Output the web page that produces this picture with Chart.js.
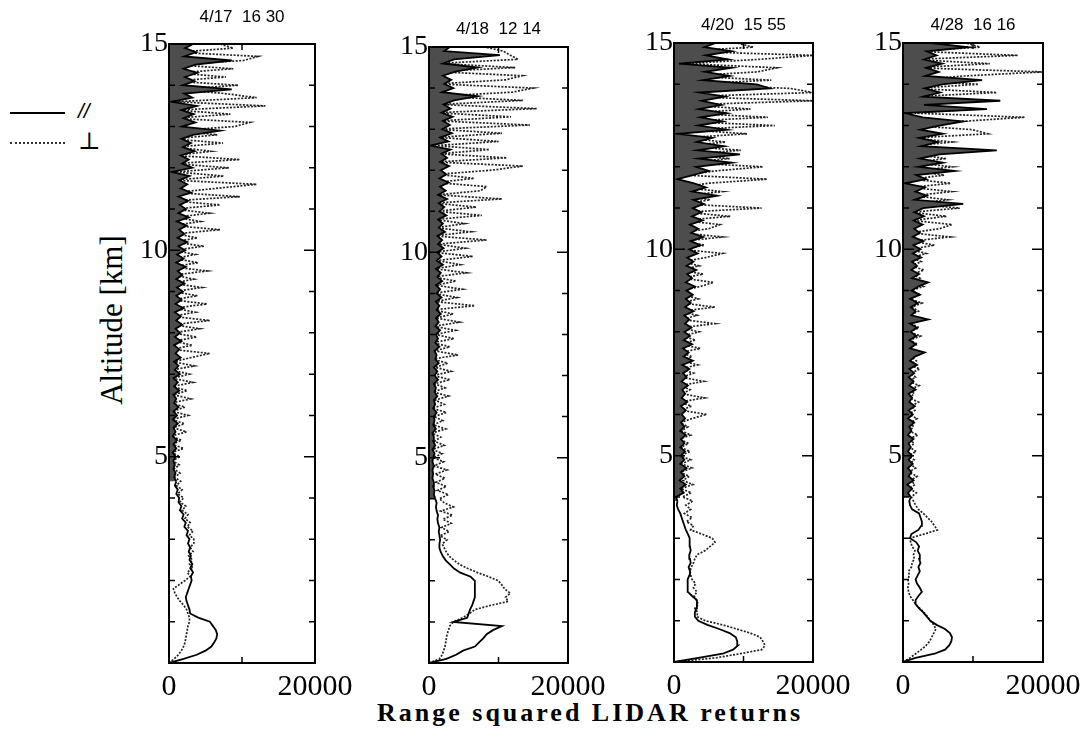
<!DOCTYPE html>
<html lang="en">
  <head>
    <meta charset="UTF-8" />
    <title>LIDAR profiles</title>
    <style>
      * {
        margin: 0;
        padding: 0;
        box-sizing: border-box;
      }
      body {
        width: 1085px;
        height: 750px;
        background: #fff;
        position: relative;
        overflow: hidden;
        font-family: "Liberation Serif", serif;
        color: #000;
      }
      canvas {
        position: absolute;
      }
      .titulo {
        position: absolute;
        font: 17px "Liberation Sans", sans-serif;
        white-space: pre;
        transform: translate(-50%, -50%);
      }
      #eixoY {
        position: absolute;
        left: 112px;
        top: 320px;
        font-size: 31px;
        white-space: nowrap;
        transform: translate(-50%, -50%) rotate(-90deg);
      }
      #eixoX {
        position: absolute;
        left: 590px;
        top: 713px;
        font-size: 26px;
        font-weight: bold;
        letter-spacing: 3px;
        white-space: nowrap;
        transform: translate(-50%, -50%);
      }
      .leg {
        position: absolute;
        left: 10px;
        width: 55px;
        height: 0;
      }
      .legTxt {
        position: absolute;
        left: 78px;
      }
    </style>
  </head>
  <body>
    <div class="leg" style="top:112px;border-top:2px solid #000"></div>
    <div class="legTxt" style="top:99px;font:italic 21px 'Liberation Sans',sans-serif">//</div>
    <div class="leg" style="top:142px;border-top:2px dotted #333"></div>
    <div class="legTxt" style="top:127px;font:24px 'DejaVu Serif',serif">⊥</div>

    <div id="eixoY">Altitude [km]</div>
    <div id="eixoX">Range squared LIDAR returns</div>

    <script src="https://cdn.jsdelivr.net/npm/chart.js"></script>
    <script>
      // altitude grid (km)
      const altitude = [
        0.0,0.1,0.2,0.3,0.4,0.5,0.6,0.7,0.8,0.9,
        1.0,1.1,1.2,1.3,1.4,1.5,1.6,1.7,1.8,1.9,
        2.0,2.1,2.2,2.3,2.4,2.5,2.6,2.7,2.8,2.9,
        3.0,3.1,3.2,3.3,3.4,3.5,3.6,3.7,3.8,3.9,
        4.0,4.1,4.2,4.3,4.4,4.5,4.6,4.7,4.8,4.9,
        5.0,5.1,5.2,5.3,5.4,5.5,5.6,5.7,5.8,5.9,
        6.0,6.1,6.2,6.3,6.4,6.5,6.6,6.7,6.8,6.9,
        7.0,7.1,7.2,7.3,7.4,7.5,7.6,7.7,7.8,7.9,
        8.0,8.1,8.2,8.3,8.4,8.5,8.6,8.7,8.8,8.9,
        9.0,9.1,9.2,9.3,9.4,9.5,9.6,9.7,9.8,9.9,
        10.0,10.1,10.2,10.3,10.4,10.5,10.6,10.7,10.8,10.9,
        11.0,11.1,11.2,11.3,11.4,11.5,11.6,11.7,11.8,11.9,
        12.0,12.1,12.2,12.3,12.4,12.5,12.6,12.7,12.8,12.9,
        13.0,13.1,13.2,13.3,13.4,13.5,13.6,13.7,13.8,13.9,
        14.0,14.1,14.2,14.3,14.4,14.5,14.6,14.7,14.8,14.9,
        15.0
      ];

      const titulos = ['4/17  16 30', '4/18  12 14', '4/20  15 55', '4/28  16 16'];

      // parallel (//) and perpendicular (⊥) returns per profile
      const par0417 = [
        0,2000,3800,5000,5800,6200,6500,6600,6400,6000,
        5600,4000,2900,2800,2600,2400,2300,2500,2700,2900,
        3100,3000,3300,2900,3200,2800,3000,2700,2900,2600,
        2800,2400,2600,2100,2300,1800,2000,1500,1700,1300,
        1400,1000,1200,800,1000,700,900,600,800,600,
        900,500,1000,600,1100,500,900,600,1200,500,
        1100,600,1300,700,1000,600,1400,700,1200,600,
        1500,800,1300,700,1600,900,1400,700,1700,800,
        1500,900,1800,1000,1600,800,2000,900,1700,1000,
        1900,1100,2100,1000,1800,1200,2300,1000,2000,1100,
        2200,1300,2500,1200,2100,1400,2400,1100,2700,1300,
        2300,1500,2600,1300,3000,1600,2500,1400,2800,300,
        3200,1800,2700,1600,3500,1900,3000,1700,3300,7000,
        1800,3600,2000,3400,1700,3800,300,3200,2100,8600,
        1900,3500,2200,3900,2000,3600,8600,2100,3700,2200,
        3300
      ];
      const per0417 = [
        0,700,1300,1700,2000,2200,2300,2400,2500,2600,
        2800,2800,2600,2400,2000,1500,1100,800,600,1400,
        2200,2900,2500,3300,2800,3200,2700,3300,2900,3400,
        3400,2800,3300,2500,2900,2200,2600,1800,2300,1500,
        2000,1200,1800,1000,1600,800,1500,700,1400,500,
        1500,400,2000,500,1700,300,2400,600,2100,400,
        2600,500,2200,300,3000,600,2500,400,3300,500,
        2800,400,3500,600,3000,5600,400,3200,700,3800,
        500,4200,600,5600,400,3600,700,5200,500,3900,
        600,4500,400,3400,700,5200,500,4000,800,3600,
        600,4800,500,3900,900,7000,600,4300,800,5500,
        700,7000,500,9700,800,6400,12000,600,7500,900,
        8200,600,9700,700,5800,900,7400,500,6600,800,
        9000,11100,700,8400,1000,13200,800,12000,7600,900,
        9500,600,7800,1100,8800,700,10200,12200,900,8800,
        7000
      ];
      const par0418 = [
        0,2500,3900,4900,6600,7200,7800,8300,9200,10500,
        3500,5500,5700,5900,6200,6400,6600,6600,6600,6600,
        6600,6000,4500,3600,3000,2400,2000,1700,1500,1500,
        1600,1500,1400,1500,1300,1200,1300,1100,1000,1100,
        900,700,800,600,700,500,600,500,700,500,
        600,800,500,900,600,700,500,1000,600,800,
        700,1100,600,900,700,1200,800,1000,700,1300,
        800,1200,700,1400,900,1100,800,1500,900,1300,
        1000,1600,900,1400,1000,1700,1100,1500,1000,1800,
        1100,1600,1000,1900,1200,1700,1000,2000,1100,1800,
        1200,2100,1300,1900,1200,2300,1400,2000,1300,2500,
        1500,2200,1400,2600,1300,2400,1600,2800,1500,2500,
        1700,2900,1600,2600,1800,3100,200,2800,1600,3300,
        1900,3000,2000,3400,1800,3100,2100,3600,7000,1900,
        3500,2200,3200,2000,3800,7000,2000,3600,10200,2200,
        3000
      ];
      const per0418 = [
        0,1500,1900,2100,2300,2400,2500,2600,2800,3000,
        3500,4800,5800,6600,8800,11400,11000,11700,10900,10500,
        10000,8600,7000,5600,4400,3600,2900,2500,2200,1900,
        2600,1600,2900,1800,3200,2000,3400,1700,3500,2200,
        1500,2800,1200,2500,1000,2300,900,2600,700,2100,
        600,1900,500,2200,800,1700,400,2400,600,2000,
        700,2500,500,2200,900,2800,600,2300,800,3000,
        600,3200,900,2700,500,4200,800,3000,600,3600,
        900,3800,700,4400,1000,3500,600,6600,900,4000,
        700,4800,1000,3900,600,5400,900,4500,1100,6300,
        800,5200,1200,8300,700,6000,1000,5100,900,7600,
        1100,6800,800,10500,1200,7400,8300,900,6500,1300,
        9000,13500,1000,11200,1400,8700,900,10000,1200,10500,
        1000,14500,1300,11800,900,15500,1400,13500,1100,12000,
        15000,1200,11000,13400,900,12400,1300,12800,11700,10700,
        8000
      ];
      const par0420 = [
        0,3500,7000,8500,9200,9100,8900,8000,6500,4800,
        3500,3000,3000,3200,3300,3300,2600,2000,1900,2000,
        2000,2200,2300,2100,2400,2300,2200,2400,2300,2300,
        2200,2000,1700,1500,1300,1100,900,600,400,500,
        300,1400,900,1700,800,1500,1000,1800,900,1500,
        1000,1600,900,1500,1000,1700,900,1500,1000,1600,
        1100,1700,1000,1900,1100,1600,1200,2000,1100,1800,
        1300,2200,1200,2700,1400,2100,1300,2600,1400,2300,
        1500,2500,1600,2200,1500,2800,1600,2400,1700,2700,
        1800,3000,1700,2600,1900,3200,1800,2800,1900,3400,
        2200,3800,2400,4200,2500,3500,2300,4100,2600,3900,
        2700,4300,2800,6200,2600,4600,2900,500,2700,5000,
        3200,8300,3600,9500,3400,7200,3300,5500,600,7600,
        3500,7000,3800,7600,3600,6800,4000,7300,3700,13800,
        11900,4200,8000,4500,8300,700,7800,4600,8300,4400,
        6000
      ];
      const per0420 = [
        0,6000,9500,12600,13100,12800,12400,11000,9000,7000,
        4500,3300,3400,3000,3500,3200,2900,3300,2800,3100,
        2600,2400,2300,2500,2800,3000,3300,4500,5200,5900,
        5500,4000,2400,2800,1800,2600,1500,2400,1700,2700,
        1200,2500,1000,2700,1300,2200,900,2600,1100,2400,
        800,2300,1000,2100,700,2400,1100,2000,900,2600,
        4700,1000,2500,800,4400,1200,2300,900,4300,1100,
        2800,900,3400,1200,2600,1000,3800,800,3100,1300,
        3600,1000,5900,1200,3300,900,5900,1100,3500,1400,
        1000,3800,5700,1200,4200,900,3600,1300,4500,7000,
        1100,4400,1400,7000,1000,5000,6600,1200,8100,1500,
        12600,1200,5200,1500,7000,1100,4800,13400,1300,6000,
        12800,1400,8000,1100,9600,1600,7400,1200,10500,1500,
        14500,1200,13500,1700,11000,1300,20000,1500,20000,16700,
        1400,14000,1800,12000,14800,1500,11900,20000,1300,11400,
        9000
      ];
      const par0428 = [
        0,1800,4500,6000,6600,6900,7000,6700,6000,4800,
        3900,3400,2900,2300,1800,1800,2200,2700,2400,2000,
        1800,2100,2400,2200,2500,2300,2400,2100,2300,1900,
        1000,1200,2200,2600,2700,2500,2300,1300,1000,900,
        1100,700,1300,600,1500,800,1200,700,1400,800,
        1300,700,1100,800,1500,700,1200,900,1600,700,
        1400,800,1700,900,1300,800,1800,900,1500,800,
        1600,900,2000,1000,1700,3100,1000,1800,900,1900,
        1100,2000,1000,3600,1200,1800,1100,2100,1000,2400,
        1200,2200,3600,1300,2300,1200,2000,1300,2600,1400,
        2500,1500,2900,1400,2400,1600,2800,1500,3000,1600,
        2900,8600,1700,3400,1800,3100,300,3300,1900,7400,
        2200,5700,2400,5200,13400,2600,5000,2300,5700,2500,
        5200,8600,2800,300,12000,3000,13900,2900,5300,3100,
        5600,11300,3200,5100,3300,5600,3000,4800,3400,9300,
        4000
      ];
      const per0428 = [
        0,1000,1800,2600,3300,3800,4100,4400,4700,4400,
        3900,3500,3000,2400,1800,1400,1000,800,700,800,
        700,900,800,1200,1300,1600,1500,1700,1300,1100,
        1000,3000,4900,4500,4100,3500,2900,2200,1800,1500,
        1200,1900,900,1700,1100,2000,800,1800,1000,1600,
        700,1900,1000,1600,800,2100,900,1500,1100,2000,
        800,1700,1200,2200,900,1600,1000,2300,800,1800,
        1100,2400,900,1900,1200,2600,800,2100,1000,2500,
        900,2300,1200,2800,1000,2200,1300,2700,900,2500,
        1200,2900,1000,2400,1400,3000,1100,2600,1300,3300,
        1000,4500,1300,6700,1100,5200,7000,1400,6200,1200,
        8100,1300,6400,1500,7000,1100,6800,1400,5900,1600,
        7100,1300,6200,1500,8400,1200,7000,1600,12100,9900,
        1400,8300,17400,1700,10600,1300,9400,1500,13400,1600,
        10800,1200,8700,19900,1500,12400,1300,16400,1700,11000,
        9000
      ];

      const xTickLabels = [0, 20000];
      const yTickLabels = [5, 10, 15];
      const yMarcas = [1,2,3,4,5,6,7,8,9,10,11,12,13,14];
      const xMarcas = [10000];

      // posicao de cada painel na pagina; "banda" = altitude onde comeca o sombreado escuro
      const paineis = [
        { L: 169, R: 315, T: 44, B: 663, tituloY: 17, banda: 4.4, par: par0417, per: per0417 },
        { L: 429, R: 568, T: 47, B: 663, tituloY: 29, banda: 4.0, par: par0418, per: per0418 },
        { L: 674, R: 813, T: 43, B: 662, tituloY: 25, banda: 3.9, par: par0420, per: per0420 },
        { L: 903, R: 1043, T: 43, B: 662, tituloY: 25, banda: 4.0, par: par0428, per: per0428 }
      ];

      const moldura = {
        id: 'moldura',
        afterDatasetsDraw(chart) {
          const { ctx, chartArea: a, scales: { x, y } } = chart;
          ctx.save();
          ctx.strokeStyle = '#000';
          ctx.lineWidth = 2;
          ctx.strokeRect(a.left, a.top, a.right - a.left, a.bottom - a.top);
          ctx.lineWidth = 1.5;
          ctx.beginPath();
          yMarcas.forEach(v => {
            const py = y.getPixelForValue(v);
            const len = v % 5 === 0 ? 11 : 6;
            ctx.moveTo(a.right, py); ctx.lineTo(a.right - len, py);
            ctx.moveTo(a.left, py); ctx.lineTo(a.left + len, py);
          });
          xMarcas.forEach(v => {
            const px = x.getPixelForValue(v);
            ctx.moveTo(px, a.top); ctx.lineTo(px, a.top + 6);
            ctx.moveTo(px, a.bottom); ctx.lineTo(px, a.bottom - 6);
          });
          ctx.stroke();
          ctx.restore();
        }
      };

      const pontos = vals => vals.map((v, i) => ({ x: v, y: altitude[i] }));

      paineis.forEach((p, k) => {
        const cv = document.createElement('canvas');
        const w = (p.R - p.L) + 50 + 45;
        const h = (p.B - p.T) + 20 + 45;
        cv.width = w;
        cv.height = h;
        cv.style.left = (p.L - 50) + 'px';
        cv.style.top = (p.T - 20) + 'px';
        document.body.appendChild(cv);

        const t = document.createElement('div');
        t.className = 'titulo';
        t.textContent = titulos[k];
        t.style.left = ((p.L + p.R) / 2) + 'px';
        t.style.top = p.tituloY + 'px';
        document.body.appendChild(t);

        new Chart(cv, {
          type: 'line',
          data: {
            datasets: [
              {
                label: '//',
                data: pontos(p.par),
                borderColor: '#000',
                borderWidth: 1.8,
                pointRadius: 0,
                tension: 0,
                fill: 'origin',
                backgroundColor: 'rgba(0,0,0,0)',
                segment: {
                  backgroundColor: c => c.p0.parsed.y >= p.banda ? '#4d4d4d' : 'rgba(0,0,0,0)'
                }
              },
              {
                label: '⊥',
                data: pontos(p.per),
                borderColor: '#222',
                borderWidth: 1.7,
                borderDash: [2, 1.5],
                pointRadius: 0,
                tension: 0,
                fill: false
              }
            ]
          },
          options: {
            responsive: false,
            animation: false,
            indexAxis: 'y',
            layout: { padding: { top: 20, right: 45, bottom: 5, left: 0 } },
            plugins: { legend: { display: false }, tooltip: { enabled: false } },
            events: [],
            scales: {
              x: {
                type: 'linear',
                min: 0,
                max: 20000,
                grid: { display: false, drawTicks: false },
                border: { display: false },
                afterFit: s => { s.height = 40; },
                ticks: {
                  stepSize: 10000,
                  autoSkip: false,
                  maxRotation: 0,
                  padding: 6,
                  color: '#000',
                  font: { family: 'Liberation Serif', size: 30 },
                  callback: v => xTickLabels.includes(v) ? String(v) : ''
                }
              },
              y: {
                type: 'linear',
                min: 0,
                max: 15,
                grid: { display: false, drawTicks: false },
                border: { display: false },
                afterFit: s => { s.width = 50; },
                ticks: {
                  stepSize: 5,
                  autoSkip: false,
                  padding: 1,
                  color: '#000',
                  font: { family: 'Liberation Serif', size: 28 },
                  callback: v => yTickLabels.includes(v) ? String(v) : ''
                }
              }
            }
          },
          plugins: [moldura]
        });
      });
    </script>
  </body>
</html>
